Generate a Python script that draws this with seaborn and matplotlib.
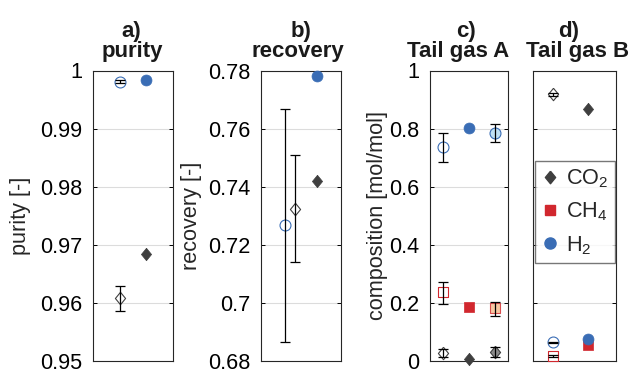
import matplotlib
matplotlib.use("Agg")
import matplotlib.pyplot as plt
from matplotlib.lines import Line2D
from matplotlib.ticker import FixedLocator, FuncFormatter
import seaborn as sns

# ---- data -----------------------------------------------------------------
# a) purity, ordered [CO2, H2]
purity_meas = [0.9608, 0.9981]
purity_meas_lo = [0.9587, 0.9979]
purity_meas_hi = [0.9630, 0.9983]
purity_model = [0.9684, 0.9984]

# b) recovery, ordered [CO2, H2]
recovery_meas = [0.7323, 0.7268]
recovery_meas_lo = [0.7140, 0.6866]
recovery_meas_hi = [0.7509, 0.7669]
recovery_model = [0.7420, 0.7781]

# c) tail gas A composition, ordered [CO2, CH4, H2]
tailA_meas = [0.028, 0.237, 0.737]
tailA_meas_lo = [0.014, 0.198, 0.686]
tailA_meas_hi = [0.041, 0.274, 0.786]
tailA_model = [0.008, 0.186, 0.803]
tailA_meas2 = [0.031, 0.183, 0.785]
tailA_meas2_lo = [0.014, 0.156, 0.755]
tailA_meas2_hi = [0.050, 0.205, 0.815]

# d) tail gas B composition, ordered [CO2, CH4, H2]
tailB_meas = [0.918, 0.018, 0.065]
tailB_meas_lo = [0.913, 0.014, 0.062]
tailB_meas_hi = [0.923, 0.022, 0.068]
tailB_model = [0.867, 0.056, 0.077]

legend_labels = ["CO$_2$", "CH$_4$", "H$_2$"]
panel_letters = ["a)", "b)", "c)", "d)"]
panel_names = ["purity", "recovery", "Tail gas A", "Tail gas B"]
ylabels = ["purity [-]", "recovery [-]", "composition [mol/mol]", None]

# ---- style ----------------------------------------------------------------
sns.set_theme(style="white")
plt.rcParams["font.family"] = ["Liberation Sans", "DejaVu Sans"]
plt.rcParams["mathtext.default"] = "regular"
FS = 15.6
FS_TITLE = 16

DARK = "#3f3f3f"
RED = "#d1272e"
BLUE = "#3a6db5"
LIGHT_BLUE = "#bfe0f4"
LIGHT_ORANGE = "#f6b98a"
GRAY = "#8c8c8c"

# a slightly upright diamond
DIAMOND = [(0, 1), (0.82, 0), (0, -1), (-0.82, 0), (0, 1)]

# marker style per component: [CO2, CH4, H2]
MARKERS = [DIAMOND, "s", "o"]
SIZES = [80, 46, 62]
COLORS = [DARK, RED, BLUE]
TINTS = [GRAY, LIGHT_ORANGE, LIGHT_BLUE]


def fmt(v, _):
    return f"{v:.2f}".rstrip("0").rstrip(".")


W, H = 630, 369
fig = plt.figure(figsize=(W / 100, H / 100), dpi=100)
bottom, height = 1 - 361.3 / H, (361.3 - 70.5) / H
rects = [
    (93.0 / W, bottom, 80.0 / W, height),
    (260.5 / W, bottom, 80.5 / W, height),
    (430.0 / W, bottom, 78.0 / W, height),
    (533.3 / W, bottom, 82.7 / W, height),
]
axes = [fig.add_axes(r) for r in rects]


def errbars(ax, xs, ys, lo, hi):
    ax.errorbar(xs, ys, yerr=[[y - l for y, l in zip(ys, lo)],
                              [h - y for y, h in zip(ys, hi)]],
                fmt="none", ecolor="black", elinewidth=0.9,
                capsize=3.6, capthick=0.9, zorder=5)


def points(ax, x, y, comp, style):
    m, s = MARKERS[comp], SIZES[comp]
    if style == "open":
        face, edge, lw = "white", COLORS[comp], 0.8
    elif style == "filled":
        face, edge, lw = COLORS[comp], COLORS[comp], 0.5
    else:
        face, edge, lw = TINTS[comp], COLORS[comp], 0.8
    alpha = 0.8 if (style == "tint" and comp == 1) else 1.0
    sns.scatterplot(x=[x], y=[y], marker=m, s=s, color=face,
                    edgecolor=edge, linewidth=lw, alpha=alpha,
                    ax=ax, zorder=4, legend=False, clip_on=False)


# a) purity
ax = axes[0]
xa_meas, xa_model = [1.0, 1.0], [2.0, 2.0]
errbars(ax, xa_meas, purity_meas, purity_meas_lo, purity_meas_hi)
for i, comp in enumerate([0, 2]):
    points(ax, xa_meas[i], purity_meas[i], comp, "open")
    points(ax, xa_model[i], purity_model[i], comp, "filled")
ax.set_xlim(0, 3)
ax.set_ylim(0.95, 1.0)
ax.yaxis.set_major_locator(FixedLocator([0.95, 0.96, 0.97, 0.98, 0.99, 1.0]))

# b) recovery
ax = axes[1]
xb_meas, xb_model = [1.3, 0.9], [2.1, 2.1]
errbars(ax, xb_meas, recovery_meas, recovery_meas_lo, recovery_meas_hi)
for i, comp in enumerate([0, 2]):
    points(ax, xb_meas[i], recovery_meas[i], comp, "open")
    points(ax, xb_model[i], recovery_model[i], comp, "filled")
ax.set_xlim(0, 3)
ax.set_ylim(0.68, 0.78)
ax.yaxis.set_major_locator(FixedLocator([0.68, 0.70, 0.72, 0.74, 0.76, 0.78]))

# c) tail gas A
ax = axes[2]
errbars(ax, [1, 1, 1], tailA_meas, tailA_meas_lo, tailA_meas_hi)
errbars(ax, [3, 3, 3], tailA_meas2, tailA_meas2_lo, tailA_meas2_hi)
for comp in range(3):
    points(ax, 1, tailA_meas[comp], comp, "open")
    points(ax, 2, tailA_model[comp], comp, "filled")
    points(ax, 3, tailA_meas2[comp], comp, "tint")
ax.set_xlim(0.5, 3.5)
ax.set_ylim(0, 1)
ax.yaxis.set_major_locator(FixedLocator([0, 0.2, 0.4, 0.6, 0.8, 1.0]))

# d) tail gas B
ax = axes[3]
errbars(ax, [0.7, 0.7, 0.7], tailB_meas, tailB_meas_lo, tailB_meas_hi)
for comp in range(3):
    points(ax, 0.7, tailB_meas[comp], comp, "open")
    points(ax, 2.0, tailB_model[comp], comp, "filled")
ax.set_xlim(0, 3)
ax.set_ylim(0, 1)
ax.yaxis.set_major_locator(FixedLocator([0, 0.2, 0.4, 0.6, 0.8, 1.0]))
ax.set_yticklabels([])

handles = [Line2D([], [], linestyle="none", marker=MARKERS[c],
                  markersize=[9, 6.5, 8][c], markerfacecolor=COLORS[c],
                  markeredgecolor=COLORS[c]) for c in range(3)]
leg = ax.legend(handles, legend_labels, loc="center",
                bbox_to_anchor=(0.505, 0.514), fontsize=FS, frameon=True,
                fancybox=False, shadow=False, handletextpad=0.35,
                handlelength=0.8, borderpad=0.3, labelspacing=0.5,
                borderaxespad=0)
leg.get_frame().set_edgecolor("#555555")
leg.get_frame().set_linewidth(1.0)
leg.set_zorder(6)

# common axis cosmetics
labelpads = [7, 4, 1, 0]
for i, ax in enumerate(axes):
    ax.set_xticks([])
    ax.grid(axis="y", color="#dcdcdc", linewidth=0.8)
    ax.set_axisbelow(True)
    ax.tick_params(axis="y", which="both", direction="in", left=True,
                   right=True, length=3.2, width=0.7, labelsize=FS,
                   pad=7.5, colors="black")
    if i < 3:
        ax.yaxis.set_major_formatter(FuncFormatter(fmt))
    for sp in ax.spines.values():
        sp.set_color("#262626")
        sp.set_linewidth(0.8)
    if ylabels[i]:
        ax.set_ylabel(ylabels[i], fontsize=FS, labelpad=labelpads[i])

# two-line bold panel titles (letter above name)
letter_x = [131.7, 301.0, 466.0, 569.0]
name_x = [132.0, 297.5, 458.0, 578.0]
for i in range(4):
    fig.text(letter_x[i] / W, 1 - 37.5 / H, panel_letters[i],
             ha="center", va="baseline", fontsize=FS_TITLE,
             fontweight="bold", color="#1a1a1a")
    fig.text(name_x[i] / W, 1 - 57.3 / H, panel_names[i],
             ha="center", va="baseline", fontsize=FS_TITLE,
             fontweight="bold", color="#1a1a1a")

fig.savefig("out.png", dpi=100)
